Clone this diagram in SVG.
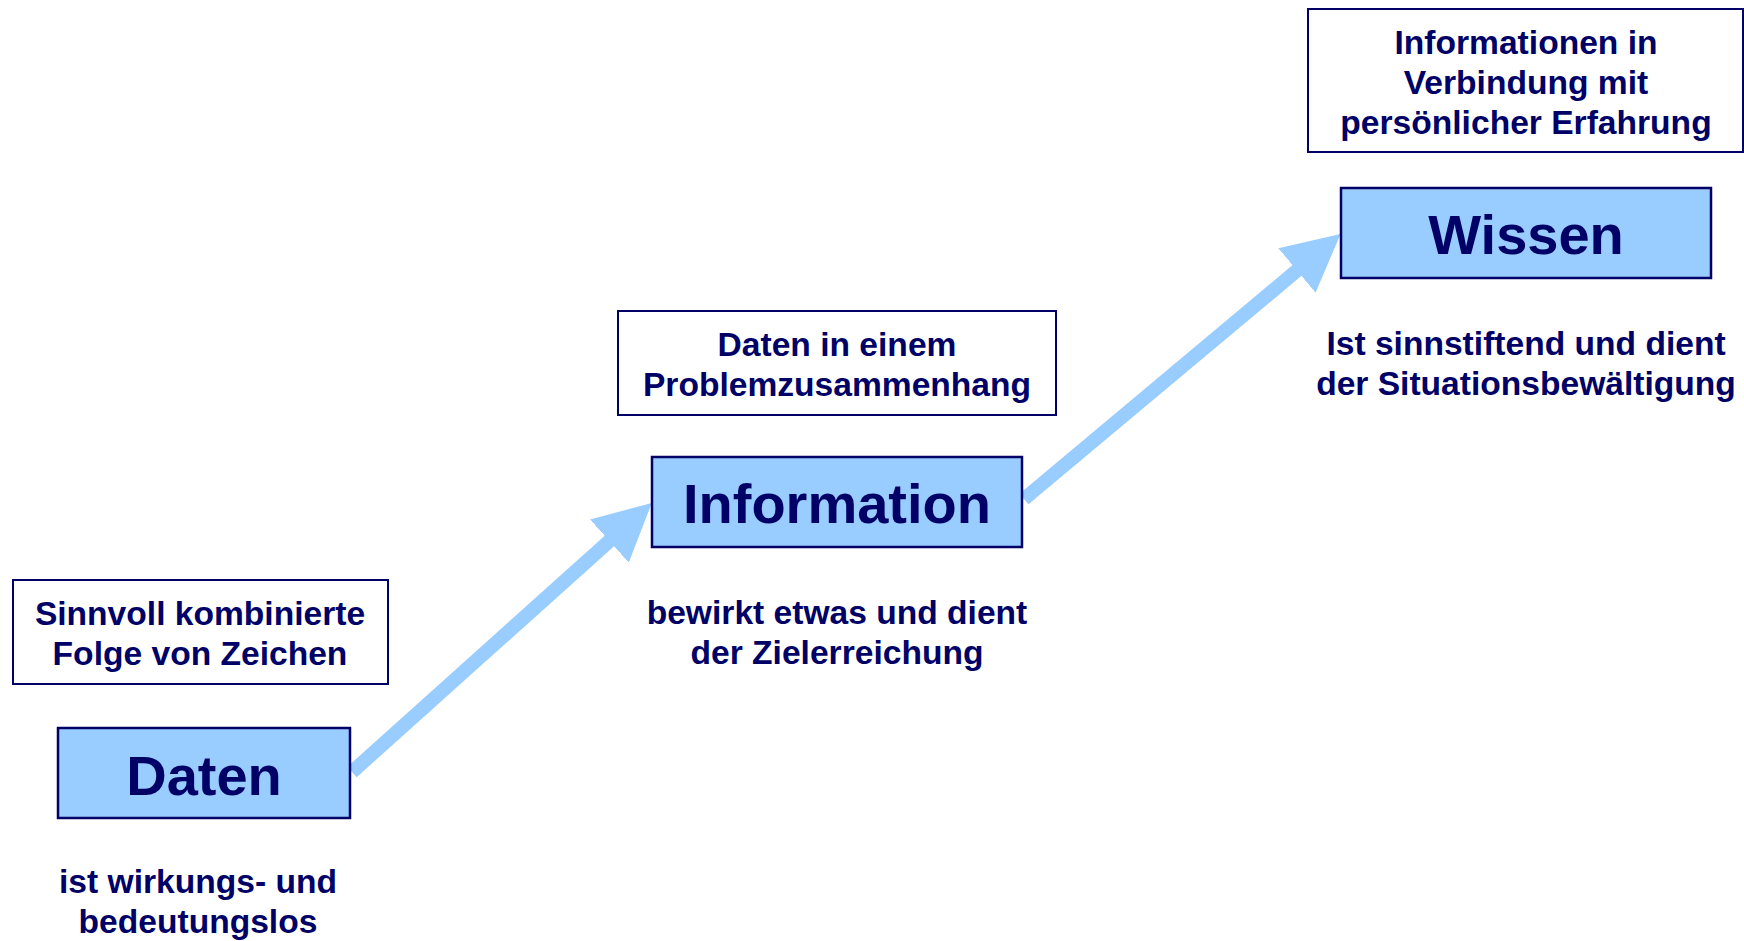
<svg xmlns="http://www.w3.org/2000/svg" width="1744" height="941" viewBox="0 0 1744 941">
<style>
.note{fill:#ffffff;stroke:#000066;stroke-width:2}
.main{fill:#99ccff;stroke:#000066;stroke-width:2.5}
text{font-family:"Liberation Sans",Arial,sans-serif;font-weight:bold;fill:#000066;text-anchor:middle}
.s{font-size:33.6px}
.l{font-size:56px}
.arrow{stroke:#99ccff;stroke-width:14;fill:none;marker-end:url(#head)}
</style>
<defs>
<marker id="head" markerUnits="userSpaceOnUse" viewBox="0 0 57 58" refX="21" refY="29" markerWidth="57" markerHeight="58" orient="auto">
<path d="M0,0 L57,29 L0,58 z" fill="#99ccff"/>
</marker>
</defs>
<rect width="1744" height="941" fill="#ffffff"/>
<g id="connectors">
<line class="arrow" x1="352" y1="772" x2="625" y2="527"/>
<line class="arrow" x1="1024" y1="499" x2="1313" y2="257"/>
</g>
<g id="daten-note">
<rect class="note" x="13" y="580" width="375" height="104"/>
<text class="s" x="200" y="625">Sinnvoll kombinierte</text>
<text class="s" x="200" y="665">Folge von Zeichen</text>
</g>
<g id="daten">
<rect class="main" x="58" y="728" width="292" height="90"/>
<text class="l" x="204" y="795">Daten</text>
</g>
<g id="daten-desc">
<text class="s" x="198" y="893">ist wirkungs- und</text>
<text class="s" x="198" y="933">bedeutungslos</text>
</g>
<g id="information-note">
<rect class="note" x="618" y="311" width="438" height="104"/>
<text class="s" x="837" y="356">Daten in einem</text>
<text class="s" x="837" y="396">Problemzusammenhang</text>
</g>
<g id="information">
<rect class="main" x="652" y="457" width="370" height="90"/>
<text class="l" x="837" y="523">Information</text>
</g>
<g id="information-desc">
<text class="s" x="837" y="624">bewirkt etwas und dient</text>
<text class="s" x="837" y="664">der Zielerreichung</text>
</g>
<g id="wissen-note">
<rect class="note" x="1308" y="9" width="435" height="143"/>
<text class="s" x="1526" y="54">Informationen in</text>
<text class="s" x="1526" y="94">Verbindung mit</text>
<text class="s" x="1526" y="134">persönlicher Erfahrung</text>
</g>
<g id="wissen">
<rect class="main" x="1341" y="188" width="370" height="90"/>
<text class="l" x="1526" y="254">Wissen</text>
</g>
<g id="wissen-desc">
<text class="s" x="1526" y="355">Ist sinnstiftend und dient</text>
<text class="s" x="1526" y="395">der Situationsbewältigung</text>
</g>
</svg>
